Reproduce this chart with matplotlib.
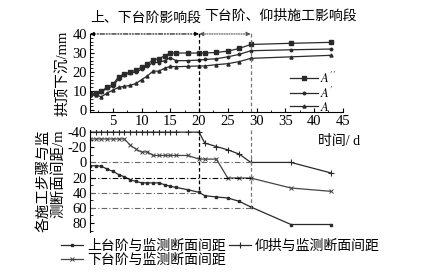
import matplotlib
matplotlib.use("Agg")
import matplotlib.pyplot as plt
from matplotlib.ticker import MultipleLocator

plt.rcParams['font.family'] = ['Liberation Serif', 'Noto Sans CJK SC']
plt.rcParams['mathtext.fontset'] = 'stix'
plt.rcParams['axes.unicode_minus'] = False

# time (d)
days = [1, 2, 3, 4, 5, 6, 7, 8, 9, 10, 11, 12, 13, 14, 15, 16, 18, 20,
        21, 23, 25, 27, 29, 36, 43]

# crown settlement (mm)
a2 = [8.4, 9, 10, 12, 13.5, 17.5, 19, 20, 21, 22.5, 24, 26.5, 27, 28.5, 30, 30, 30, 30,
      30, 30.3, 31, 32.4, 34.5, 35.1, 35.6]
a1 = [8, 8.5, 9.5, 11.5, 12.5, 16.5, 18.5, 19.5, 20, 21.5, 23, 25, 25, 26, 27.5, 26, 26, 26.3,
      26.6, 27, 28, 29.3, 31.2, 31.7, 32.1]
a0 = [7.9, 8, 7, 9, 10.5, 12, 12.5, 13, 14, 16, 18, 20.5, 20.5, 22, 23, 22.8, 23, 23.2,
      23.2, 23.9, 24.4, 25.5, 27.2, 28, 28.8]

# distance of each step to monitoring section (m)
upper = [4.4, 4.4, 5, 8.8, 11.8, 16, 19, 22.8, 25, 27, 27, 27, 27, 29.4, 31.6, 33, 36, 39.5,
         44, 45.6, 47, 51.4, 58.8, 82, 82]
lower = [-31, -31, -31, -31, -31, -31, -31, -23, -17.6, -13.6, -14, -9.2, -9.2, -9.2, -9.2, -9.2, -9.2, -4.4,
         -4.4, -4.4, 20.6, 20.6, 20.6, 33.8, 38.2]
invert = [-40] * 18 + [-25.6, -21, -16.7, -11, 0, 0, 14]

fig = plt.figure(figsize=(4.3, 2.74), dpi=100)
ax1 = fig.add_axes([0.209, 0.591, 0.588, 0.285])
ax2 = fig.add_axes([0.209, 0.153, 0.588, 0.373])

lc = '#2a2a2a'
ax1.plot(days, a2, color=lc, lw=0.9, marker='s', ms=2.2, label="$A''$")
ax1.plot(days, a1, color=lc, lw=0.9, marker='o', ms=1.8, label="$A'$")
ax1.plot(days, a0, color=lc, lw=0.9, marker='^', ms=2.2, label="$A$")

ax1.set_xlim(1, 45)
ax1.set_ylim(-1, 40)
for s in ['top', 'right']:
    ax1.spines[s].set_visible(False)
ax1.xaxis.set_major_locator(MultipleLocator(5))
ax1.xaxis.set_minor_locator(MultipleLocator(2.5))
ax1.yaxis.set_major_locator(MultipleLocator(10))
ax1.yaxis.set_minor_locator(MultipleLocator(2))
ax1.tick_params(direction='in', labelsize=10.5, length=3, width=0.8, pad=2)
ax1.tick_params(which='minor', direction='in', length=1.8, width=0.6)
ax1.set_xticks([5, 10, 15, 20, 25, 30, 35, 40, 45])

ax1.vlines(20, -1, 41.5, colors='k', linestyles=(0, (3, 2)), lw=0.9, clip_on=False)
ax1.vlines(29, -1, 41.5, colors='#777777', linestyles=(0, (3, 2)), lw=0.9, clip_on=False)
ax1.annotate('', xy=(1, 40), xytext=(20, 40),
             arrowprops=dict(arrowstyle='<|-|>', color='k', lw=0.8, ls=(0, (4, 1.5, 1, 1.5, 1, 1.5)),
                             mutation_scale=6, shrinkA=0, shrinkB=0), annotation_clip=False)
ax1.annotate('', xy=(20, 40), xytext=(29, 40),
             arrowprops=dict(arrowstyle='<|-|>', color='#555555', lw=0.8, ls=(0, (1, 1.2)),
                             mutation_scale=6, shrinkA=0, shrinkB=0), annotation_clip=False)
ax1.set_ylabel('拱顶下沉/mm', fontsize=10.5, labelpad=2)
ax1.legend(loc='upper left', bbox_to_anchor=(0.66, 0.765), bbox_transform=fig.transFigure,
           frameon=False, fontsize=9, handlelength=2.2, handletextpad=0.2,
           labelspacing=0.0, borderpad=0)

ax2.plot(days, upper, color=lc, lw=0.9, marker='s', ms=2, label='上台阶与监测断面间距')
ax2.plot(days, lower, color='#444444', lw=0.9, marker='x', ms=2.5, mew=0.7, label='下台阶与监测断面间距')
ax2.plot(days, invert, color=lc, lw=0.9, marker='+', ms=5, mew=0.8, label='仰拱与监测断面间距')
ax2.hlines([0, 60], 1, 29, colors='#666666', linestyles=(0, (5, 2, 1, 2)), lw=0.8)
ax2.hlines(20, 1, 29, colors='k', linestyles=(0, (5, 2, 1, 2)), lw=0.8)
ax2.hlines(40, 1, 20, colors='#666666', linestyles=(0, (5, 2, 1, 2)), lw=0.8)
ax2.vlines(20, -43, 40, colors='k', linestyles=(0, (3, 2)), lw=0.9, clip_on=False)
ax2.vlines(29, -43, 60, colors='#777777', linestyles=(0, (3, 2)), lw=0.9, clip_on=False)

ax2.set_xlim(1, 45)
ax2.set_ylim(92, -43)
for s in ['top', 'right', 'bottom']:
    ax2.spines[s].set_visible(False)
ax2.set_xticks([])
ax2.yaxis.set_major_locator(MultipleLocator(20))
ax2.yaxis.set_minor_locator(MultipleLocator(10))
ax2.tick_params(direction='in', labelsize=10.5, length=3, width=0.8, pad=2)
ax2.tick_params(which='minor', direction='in', length=1.8, width=0.6)
ax2.set_yticks([-40, -20, 0, 20, 40, 60, 80])
ax2.set_ylabel('各施工步骤与监\n测断面间距/m', fontsize=10.5, labelpad=2,
               multialignment='right', linespacing=1.05)

h, l = ax2.get_legend_handles_labels()
fig.legend(h, l, loc='upper left', bbox_to_anchor=(0.125, 0.15), ncol=2, frameon=False,
           fontsize=10, handlelength=1.6, handletextpad=0.3, columnspacing=0.2,
           labelspacing=0.05, borderpad=0)

fig.text(0.338, 0.935, '上、下台阶影响段', fontsize=10, ha='center', va='center')
fig.text(0.652, 0.94, '下台阶、仰拱施工影响段', fontsize=10, ha='center', va='center')
fig.text(0.788, 0.482, '时间/ d', fontsize=10, ha='center', va='center')

fig.savefig('out.png', dpi=100)
